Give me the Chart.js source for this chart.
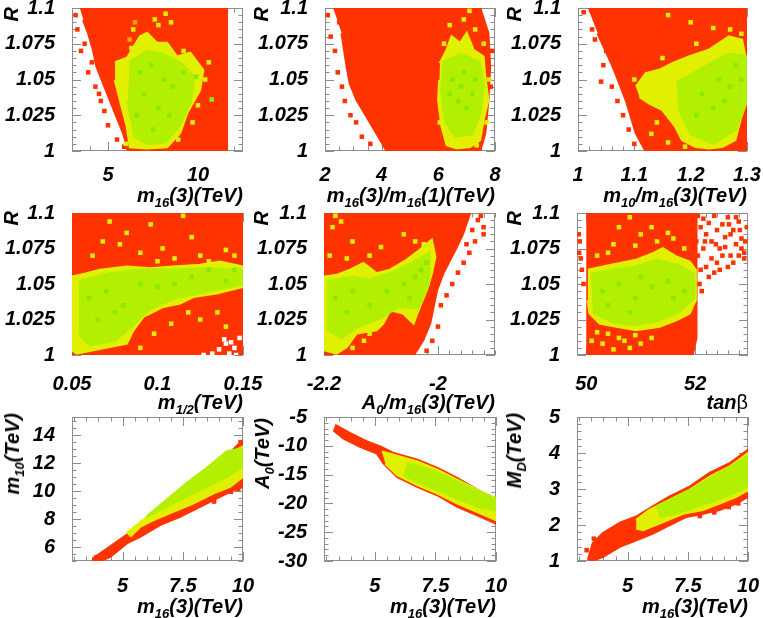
<!DOCTYPE html>
<html><head><meta charset="utf-8">
<script src="https://cdn.jsdelivr.net/npm/chart.js@4.4.1/dist/chart.umd.min.js"></script>
<style>
html,body{margin:0;padding:0;background:#fff}
body{width:763px;height:618px;overflow:hidden;position:relative}
canvas{position:absolute}
.t{position:absolute;font:italic bold 20px "Liberation Sans",Arial,sans-serif;line-height:20px;white-space:nowrap;color:#000}
.t sub{font-size:13px;vertical-align:-5px;line-height:0}
.r{transform-origin:0 0;transform:rotate(-90deg) translate(-100%,-50%)}
.beta{font-style:normal;font-weight:normal}
</style></head><body>
<script>
// ---------- tick labels ----------
const rTicks = [1, 1.025, 1.05, 1.075, 1.1];
const p1XTicks = [5, 10];
const p2XTicks = [2, 4, 6, 8];
const p3XTicks = [1, 1.1, 1.2, 1.3];
const p4XTicks = [0.05, 0.1, 0.15];
const p5XTicks = [-2.2, -2];
const p6XTicks = [50, 52];
const m16XTicks = [5, 7.5, 10];
const p7YTicks = [6, 8, 10, 12, 14];
const p8YTicks = [-30, -25, -20, -15, -10, -5];
const p9YTicks = [1, 2, 3, 4, 5];

// ---------- panel 1 : R vs m16(3) ----------
const p1Red = [[3.44,1.1],[11.6,1.1],[11.6,1.0],[6.13,1.0],[5.85,1.0124],[5.48,1.024],[5.11,1.0357],[4.74,1.0473],[4.37,1.059],[4.18,1.0706],[3.91,1.0823],[3.63,1.0916]];
const p1RedDots = [[3.3,1.085],[3.5,1.07],[3.9,1.055],[4.1,1.062],[4.3,1.045],[4.6,1.035],[4.8,1.028],[5.0,1.018],[5.5,1.008],[5.9,1.003],[3.2,1.095],[3.7,1.075],[4.5,1.04]];
const p1Yellow = [[5.39,1.062],[6.06,1.065],[6.78,1.080],[7.17,1.0825],[7.72,1.0755],[8.28,1.0755],[8.83,1.066],[9.56,1.0685],[10.28,1.0566],[10.11,1.0427],[9.39,1.0266],[9.0,1.0126],[8.28,1.0028],[7.17,1.002],[6.22,1.0028],[6.06,1.0168],[5.67,1.0357],[5.39,1.0497]];
const p1Green = [[6.2,1.062],[7.2,1.07],[8.0,1.068],[9.0,1.062],[9.8,1.052],[9.6,1.035],[9.0,1.018],[8.2,1.006],[7.2,1.005],[6.5,1.01],[6.1,1.035]];
const p1GreenDots = [[6.8,1.055],[7.4,1.06],[8.1,1.05],[7.0,1.04],[7.8,1.03],[8.6,1.045],[9.2,1.055],[6.6,1.025],[7.5,1.015],[8.4,1.025],[9.9,1.052],[10.76,1.036]];
const p1YellowDots = [[7.6,1.092],[8.2,1.096],[8.5,1.09],[6.4,1.085],[9.2,1.07],[10.6,1.062],[10.4,1.05],[10.0,1.032],[9.7,1.02],[6.0,1.005],[7.8,1.088],[6.3,1.072],[8.9,1.008]];
const p1OrangeDots = [[6.2,1.078],[6.5,1.09],[5.8,1.055],[5.9,1.04]];

// ---------- panel 2 : R vs m16(3)/m16(1) ----------
const p2Red = [[2.29,1.1],[7.47,1.1],[7.76,1.0823],[7.82,1.059],[7.76,1.0357],[7.65,1.0124],[7.47,1.0],[4.18,1.0],[3.82,1.0124],[3.47,1.024],[3.12,1.0357],[2.88,1.0473],[2.77,1.059],[2.59,1.0823]];
const p2RedDots = [[2.1,1.095],[2.2,1.08],[2.35,1.07],[2.45,1.055],[2.6,1.045],[2.7,1.035],[2.9,1.025],[3.1,1.02],[3.3,1.01],[3.6,1.005],[2.5,1.09],[7.9,1.07],[7.85,1.045]];
const p2Yellow = [[6.06,1.0613],[6.30,1.0706],[6.47,1.08],[6.77,1.0753],[7.0,1.0823],[7.24,1.0706],[7.59,1.066],[7.65,1.052],[7.76,1.0357],[7.59,1.0217],[7.47,1.0077],[7.12,1.003],[6.65,1.0019],[6.30,1.0042],[6.12,1.017],[6.0,1.0357],[6.04,1.0497]];
const p2Green = [[6.15,1.062],[6.8,1.068],[7.45,1.062],[7.6,1.045],[7.5,1.028],[7.2,1.012],[6.6,1.01],[6.25,1.02],[6.08,1.045]];
const p2GreenDots = [[6.5,1.05],[6.9,1.055],[7.2,1.04],[6.7,1.035],[7.0,1.03],[6.4,1.04],[7.3,1.05],[6.8,1.045]];
const p2YellowDots = [[6.4,1.088],[6.9,1.092],[7.3,1.085],[7.6,1.075],[7.8,1.05],[7.7,1.02],[6.2,1.075],[7.1,1.098],[6.05,1.02],[7.35,1.004]];

// ---------- panel 3 : R vs m10/m16(3) ----------
const p3Red = [[1.0176,1.1],[1.3,1.1],[1.3,1.0],[1.12,1.0],[1.103,1.0124],[1.085,1.0357],[1.062,1.059],[1.035,1.0823]];
const p3RedDots = [[1.01,1.097],[1.025,1.085],[1.041,1.0485],[1.05,1.07],[1.06,1.045],[1.07,1.035],[1.08,1.025],[1.09,1.015],[1.1,1.005],[1.045,1.06],[1.03,1.078]];
const p3Yellow = [[1.103,1.045],[1.1205,1.0543],[1.144,1.0566],[1.1676,1.0613],[1.197,1.066],[1.232,1.0706],[1.268,1.08],[1.291,1.0776],[1.3,1.059],[1.3,1.0357],[1.288,1.0217],[1.279,1.0077],[1.256,1.003],[1.232,1.0019],[1.209,1.003],[1.185,1.0077],[1.173,1.017],[1.15,1.0287],[1.126,1.0334],[1.109,1.038]];
const p3Green = [[1.175,1.048],[1.2206,1.058],[1.268,1.068],[1.3,1.066],[1.3,1.0357],[1.28,1.015],[1.24,1.005],[1.2,1.012],[1.178,1.03]];
const p3GreenDots = [[1.22,1.04],[1.25,1.05],[1.27,1.045],[1.24,1.03],[1.28,1.06],[1.21,1.025],[1.26,1.035],[1.29,1.05]];
const p3YellowDots = [[1.16,1.095],[1.2,1.09],[1.24,1.086],[1.14,1.02],[1.13,1.012],[1.16,1.006],[1.1,1.05],[1.11,1.045],[1.27,1.085],[1.29,1.082],[1.21,1.075],[1.15,1.065],[1.19,1.003]];

// ---------- panel 4 : R vs m1/2 ----------
const p4Red = [[0.05,1.1],[0.15,1.1],[0.15,1.0],[0.05,1.0]];
const p4WhiteDots = [[0.14,1.008],[0.145,1.005],[0.148,1.012],[0.136,1.004],[0.142,1.001],[0.132,1.001],[0.127,1.0],[0.146,1.0],[0.139,1.011],[0.143,1.009]];
const p4Yellow = [[0.05,1.0551],[0.0586,1.0575],[0.0664,1.0599],[0.082,1.0622],[0.0956,1.061],[0.1092,1.0622],[0.1249,1.0634],[0.1365,1.0657],[0.15,1.0622],[0.15,1.0481],[0.1346,1.0434],[0.1209,1.041],[0.1132,1.0364],[0.1034,1.034],[0.0917,1.027],[0.0859,1.0176],[0.082,1.0082],[0.0722,1.0058],[0.0625,1.0035],[0.0527,1.0012],[0.05,1.0035]];
const p4Green = [[0.054,1.052],[0.07,1.057],[0.09,1.06],[0.11,1.06],[0.13,1.061],[0.15,1.06],[0.15,1.05],[0.13,1.045],[0.11,1.04],[0.095,1.032],[0.085,1.02],[0.075,1.01],[0.06,1.007],[0.054,1.015]];
const p4GreenDots = [[0.06,1.04],[0.07,1.045],[0.08,1.035],[0.09,1.05],[0.1,1.048],[0.12,1.055],[0.14,1.052],[0.065,1.025],[0.075,1.03],[0.11,1.05],[0.13,1.06],[0.145,1.06]];
const p4YellowDots = [[0.072,1.094],[0.082,1.086],[0.078,1.078],[0.09,1.072],[0.096,1.092],[0.103,1.075],[0.11,1.068],[0.12,1.083],[0.125,1.07],[0.13,1.066],[0.14,1.074],[0.145,1.07],[0.062,1.07],[0.068,1.08],[0.1,1.066],[0.118,1.03],[0.125,1.025],[0.135,1.03],[0.14,1.02],[0.108,1.022],[0.098,1.015],[0.09,1.005],[0.115,1.098]];

// ---------- panel 5 : R vs A0/m16(3) ----------
const p5Red = [[-2.2,1.1],[-1.944,1.1],[-1.956,1.0857],[-1.967,1.0763],[-1.979,1.0669],[-1.991,1.0575],[-2.002,1.0458],[-2.008,1.034],[-2.014,1.0223],[-2.026,1.0106],[-2.037,1.0035],[-2.043,1.0],[-2.2,1.0]];
const p5RedDots = [[-1.93,1.095],[-1.92,1.09],[-1.935,1.08],[-1.945,1.072],[-1.955,1.065],[-1.965,1.058],[-1.975,1.05],[-1.985,1.042],[-1.995,1.035],[-1.92,1.085],[-1.94,1.088],[-2.0,1.02],[-2.01,1.01],[-2.02,1.003],[-1.95,1.078],[-1.925,1.098]];
const p5Yellow = [[-2.2,1.0551],[-2.178,1.0563],[-2.154,1.0599],[-2.131,1.0646],[-2.108,1.0575],[-2.084,1.0599],[-2.055,1.0669],[-2.032,1.0739],[-2.011,1.081],[-2.005,1.0692],[-2.011,1.0575],[-2.02,1.0458],[-2.032,1.034],[-2.043,1.0223],[-2.061,1.0294],[-2.084,1.0317],[-2.096,1.0223],[-2.108,1.0176],[-2.143,1.0153],[-2.16,1.0058],[-2.178,1.0012],[-2.2,1.0035]];
const p5Green = [[-2.195,1.052],[-2.15,1.055],[-2.12,1.053],[-2.08,1.058],[-2.04,1.066],[-2.015,1.072],[-2.016,1.05],[-2.035,1.033],[-2.07,1.034],[-2.1,1.026],[-2.14,1.02],[-2.17,1.012],[-2.195,1.018]];
const p5GreenDots = [[-2.18,1.04],[-2.15,1.045],[-2.12,1.035],[-2.09,1.045],[-2.06,1.05],[-2.04,1.055],[-2.03,1.06],[-2.05,1.04],[-2.16,1.03],[-2.02,1.065]];
const p5YellowDots = [[-2.18,1.098],[-2.185,1.09],[-2.17,1.094],[-2.15,1.08],[-2.12,1.07],[-2.1,1.076],[-2.06,1.085],[-2.04,1.08],[-2.025,1.078],[-2.16,1.068],[-2.19,1.07],[-2.13,1.01],[-2.15,1.005],[-2.12,1.015]];

// ---------- panel 6 : R vs tan beta ----------
const p6Red = [[50.0,1.1],[52.02,1.1],[52.02,1.012],[51.95,1.0],[50.0,1.0]];
const p6RedDots = [[49.86,1.085],[49.88,1.08],[49.87,1.072],[49.9,1.068],[49.92,1.06],[49.95,1.05],
  [52.05,1.098],[52.1,1.09],[52.15,1.096],[52.2,1.085],[52.25,1.093],[52.3,1.08],[52.35,1.098],[52.4,1.088],[52.45,1.075],[52.5,1.092],[52.55,1.083],[52.6,1.097],[52.65,1.07],[52.7,1.088],[52.75,1.078],[52.8,1.094],[52.85,1.082],[52.9,1.072],[52.95,1.09],[52.05,1.07],[52.1,1.06],[52.08,1.05],[52.15,1.075],[52.2,1.062],[52.3,1.068],[52.35,1.058],[52.4,1.065],[52.5,1.07],[52.6,1.062],[52.7,1.065],[52.8,1.07],[52.9,1.068],[52.12,1.045],[52.25,1.055],[52.45,1.06],[52.55,1.076],[52.65,1.085],[52.75,1.097],[52.85,1.075],[52.92,1.08],[52.02,1.08],[52.18,1.08],[52.38,1.078],[52.62,1.092],[52.82,1.088]];
const p6Yellow = [[50.03,1.0599],[50.307,1.0622],[50.613,1.0646],[50.918,1.0669],[51.224,1.0716],[51.408,1.0751],[51.652,1.0692],[51.898,1.0657],[52.008,1.0599],[52.008,1.0387],[51.898,1.0294],[51.652,1.0246],[51.347,1.02],[50.918,1.0176],[50.551,1.02],[50.246,1.0223],[50.062,1.0294],[50.03,1.0387]];
const p6Green = [[50.08,1.057],[50.5,1.06],[50.9,1.062],[51.3,1.067],[51.7,1.063],[51.98,1.057],[51.98,1.04],[51.7,1.03],[51.3,1.024],[50.9,1.021],[50.5,1.023],[50.12,1.03]];
const p6GreenDots = [[50.3,1.045],[50.6,1.05],[50.9,1.04],[51.2,1.048],[51.5,1.052],[51.8,1.045],[50.4,1.035],[51.0,1.055],[51.6,1.04],[50.8,1.03]];
const p6YellowDots = [[50.1,1.01],[50.3,1.008],[50.4,1.015],[50.6,1.012],[50.8,1.005],[50.7,1.01],[51.0,1.008],[51.2,1.012],[50.5,1.004],[50.2,1.016],[50.9,1.014],
  [50.6,1.09],[50.8,1.097],[51.0,1.085],[51.2,1.09],[51.5,1.086],[50.5,1.078],[50.9,1.077],[51.3,1.08],[51.6,1.082],[51.8,1.075],[50.2,1.07],[50.4,1.072]];

// ---------- panel 7 : m10 vs m16(3) ----------
const p7Red = [[3.78,5.0],[3.78,5.19],[4.48,6.02],[5.17,6.86],[5.86,7.7],[6.55,8.65],[7.38,9.6],[8.21,10.79],[9.04,11.99],[9.8,13.3],[10.0,13.42],[10.0,10.31],[9.59,10.08],[9.04,9.6],[8.21,8.88],[7.38,8.17],[6.55,7.58],[5.72,6.74],[5.17,6.27],[4.48,5.31],[4.06,5.0]];
const p7Yellow = [[5.17,6.98],[5.86,7.93],[6.83,9.13],[7.66,10.31],[8.49,11.39],[9.32,12.58],[10.0,13.18],[10.0,11.03],[9.46,10.31],[8.76,9.84],[7.93,9.13],[7.1,8.53],[6.27,7.93],[5.72,7.45],[5.31,6.74]];
const p7Green = [[6.0,8.17],[6.83,9.36],[7.66,10.56],[8.49,11.63],[9.32,12.82],[10.0,13.06],[10.0,11.75],[9.32,11.03],[8.49,10.31],[7.66,9.6],[6.83,8.88],[6.14,8.29]];
const p7RedDots = [[3.9,5.25],[4.3,5.6],[9.5,9.95],[9.8,10.15],[8.8,9.25],[9.9,13.5]];

// ---------- panel 8 : A0 vs m16(3) ----------
const p8Red = [[3.36,-6.39],[3.98,-7.83],[4.67,-9.28],[5.22,-10.15],[5.78,-11.3],[6.75,-12.47],[7.58,-13.9],[8.41,-15.64],[9.24,-17.67],[10.0,-19.41],[10.0,-23.45],[9.37,-22.3],[8.41,-20.57],[7.58,-18.54],[6.75,-17.1],[5.92,-15.36],[5.36,-13.04],[5.09,-11.3],[4.39,-10.15],[3.7,-8.7],[3.29,-7.26]];
const p8Yellow = [[5.29,-11.02],[5.78,-11.6],[6.75,-12.76],[7.58,-14.2],[8.41,-15.94],[9.37,-17.97],[10.0,-19.7],[10.0,-22.88],[9.37,-21.72],[8.41,-19.98],[7.58,-18.25],[6.75,-16.8],[5.92,-15.07],[5.43,-13.04]];
const p8Green = [[6.33,-13.04],[7.3,-14.2],[8.13,-15.64],[8.96,-17.38],[10.0,-19.11],[10.0,-21.15],[9.24,-20.57],[8.41,-19.11],[7.58,-17.67],[6.75,-16.23],[6.19,-15.07]];

// ---------- panel 9 : MD vs m16(3) ----------
const p9Red = [[3.36,1.03],[3.56,1.49],[3.98,1.77],[4.67,2.05],[5.36,2.23],[6.05,2.51],[6.75,2.79],[7.58,3.06],[8.41,3.44],[9.24,3.71],[10.0,4.08],[10.0,2.79],[9.51,2.6],[8.82,2.42],[8.13,2.32],[7.44,2.23],[6.75,2.0],[6.05,1.77],[5.36,1.58],[4.67,1.4],[3.98,1.12],[3.49,1.0]];
const p9Yellow = [[5.36,2.14],[5.92,2.42],[6.75,2.69],[7.58,2.97],[8.41,3.34],[9.24,3.62],[10.0,3.99],[10.0,2.97],[9.51,2.79],[8.82,2.6],[8.13,2.42],[7.3,2.32],[6.47,2.09],[5.64,1.86],[5.36,1.91]];
const p9Green = [[6.19,2.51],[7.02,2.79],[7.85,3.06],[8.68,3.39],[9.51,3.71],[10.0,3.9],[10.0,3.06],[9.37,2.88],[8.68,2.69],[7.85,2.51],[7.02,2.32],[6.33,2.23]];
const p9RedDots = [[3.3,1.3],[3.6,1.62],[9.6,2.6],[9.9,2.85],[8.0,2.25],[8.6,2.35],[9.2,2.5]];

// ---------- colours ----------
const RED = '#ff3300', YEL = '#e0f000', YG = '#b2ef00', GRN = '#8ce800', ORG = '#ffa000', WHITE = '#ffffff';

const xy = a => a.map(p => ({x: p[0], y: p[1]}));
const poly = (a, c, order) => ({data: xy(a), showLine: true, fill: 'shape', tension: 0, backgroundColor: c, borderColor: c, borderWidth: 2.5, pointRadius: 0, order, clip: 0});
const dots = (a, c, order, r) => ({data: xy(a), showLine: false, pointStyle: 'rect', pointRadius: r || 3.2, backgroundColor: c, borderWidth: 0, order, clip: 0});

const framePlugin = {
  id: 'frame',
  beforeDatasetsDraw(chart) {
    const o = chart.options.plugins.frame;
    const {ctx, chartArea: a, scales: {x, y}} = chart;
    ctx.save();
    ctx.strokeStyle = '#8c8c8c';
    ctx.lineWidth = 1;
    ctx.strokeRect(a.left + 0.5, a.top + 0.5, a.right - a.left - 1, a.bottom - a.top - 1);
    ctx.beginPath();
    const steps = (min, max, st) => { const r = []; for (let v = Math.ceil(min / st - 1e-6) * st; v <= max + 1e-9; v += st) r.push(v); return r; };
    for (const v of steps(x.min, x.max, o.xMinor)) {
      const p = Math.round(x.getPixelForValue(v)) + 0.5;
      const L = o.xMajor.some(m => Math.abs(m - v) < o.xMinor / 10) ? 9 : 4.5;
      ctx.moveTo(p, a.bottom); ctx.lineTo(p, a.bottom - L);
      ctx.moveTo(p, a.top); ctx.lineTo(p, a.top + L);
    }
    for (const v of steps(y.min, y.max, o.yMinor)) {
      const p = Math.round(y.getPixelForValue(v)) + 0.5;
      const L = o.yMajor.some(m => Math.abs(m - v) < o.yMinor / 10) ? 9 : 4.5;
      ctx.moveTo(a.left, p); ctx.lineTo(a.left + L, p);
      ctx.moveTo(a.right, p); ctx.lineTo(a.right - L, p);
    }
    ctx.stroke();
    ctx.restore();
  }
};

const TICKFONT = {family: '"Liberation Sans", Arial, sans-serif', size: 20, style: 'italic', weight: 'bold'};
const PADT = 20, PADR = 26, AXW = 72, AXH = 36;

function makePanel(p) {
  const c = document.createElement('canvas');
  const W = AXW + p.w + PADR, H = PADT + p.h + AXH;
  c.width = W; c.height = H;
  c.style.left = (p.left - AXW) + 'px';
  c.style.top = (p.top - PADT) + 'px';
  c.style.width = W + 'px'; c.style.height = H + 'px';
  document.body.appendChild(c);
  const noPad = s => { s.paddingLeft = 0; s.paddingRight = 0; s.paddingTop = 0; s.paddingBottom = 0; };
  new Chart(c, {
    type: 'scatter',
    data: {datasets: p.datasets},
    options: {
      responsive: false, animation: false, events: [], devicePixelRatio: 1,
      layout: {padding: {top: PADT, right: PADR, left: 0, bottom: 0}},
      plugins: {legend: {display: false}, tooltip: {enabled: false},
        frame: {xMinor: p.xMinor, yMinor: p.yMinor, xMajor: p.xTicks, yMajor: p.yTicks}},
      scales: {
        x: {type: 'linear', min: p.xr[0], max: p.xr[1],
          afterBuildTicks: s => { s.ticks = p.xTicks.map(v => ({value: v})); },
          afterFit: s => { s.height = AXH; noPad(s); },
          grid: {display: false}, border: {display: false},
          ticks: {autoSkip: false, maxRotation: 0, padding: p.xPad, color: '#000', font: TICKFONT, callback: v => String(v)}},
        y: {type: 'linear', min: p.yr[0], max: p.yr[1],
          afterBuildTicks: s => { s.ticks = p.yTicks.map(v => ({value: v})); },
          afterFit: s => { s.width = AXW; noPad(s); },
          grid: {display: false}, border: {display: false},
          ticks: {autoSkip: false, padding: 9, color: '#000', font: TICKFONT, callback: v => String(v)}}
      }
    },
    plugins: [framePlugin]
  });
}

const panels = [
  {left: 72, top: 8, w: 171, h: 143, xr: [3, 12.5], yr: [1, 1.1], xTicks: p1XTicks, yTicks: rTicks, xMinor: 1, yMinor: 0.005, xPad: 4,
   datasets: [poly(p1Red, RED, 20), dots(p1RedDots, RED, 19), dots(p1OrangeDots, ORG, 18), poly(p1Yellow, YEL, 17), poly(p1Green, YG, 16), dots(p1YellowDots, YEL, 15), dots(p1GreenDots, GRN, 14)]},
  {left: 325, top: 8, w: 170, h: 143, xr: [2, 8], yr: [1, 1.1], xTicks: p2XTicks, yTicks: rTicks, xMinor: 0.5, yMinor: 0.005, xPad: 4,
   datasets: [poly(p2Red, RED, 20), dots(p2RedDots, RED, 19), poly(p2Yellow, YEL, 17), poly(p2Green, YG, 16), dots(p2YellowDots, YEL, 15), dots(p2GreenDots, GRN, 14)]},
  {left: 578, top: 8, w: 169, h: 143, xr: [1, 1.3], yr: [1, 1.1], xTicks: p3XTicks, yTicks: rTicks, xMinor: 0.02, yMinor: 0.005, xPad: 4,
   datasets: [poly(p3Red, RED, 20), dots(p3RedDots, RED, 19), poly(p3Yellow, YEL, 17), poly(p3Green, YG, 16), dots(p3YellowDots, YEL, 15), dots(p3GreenDots, GRN, 14)]},
  {left: 72, top: 213, w: 171, h: 142, xr: [0.05, 0.15], yr: [1, 1.1], xTicks: p4XTicks, yTicks: rTicks, xMinor: 0.01, yMinor: 0.005, xPad: 9,
   datasets: [poly(p4Red, RED, 20), dots(p4WhiteDots, WHITE, 19), poly(p4Yellow, YEL, 17), poly(p4Green, YG, 16), dots(p4YellowDots, YEL, 15), dots(p4GreenDots, GRN, 14)]},
  {left: 324, top: 213, w: 171, h: 142, xr: [-2.2, -1.9], yr: [1, 1.1], xTicks: p5XTicks, yTicks: rTicks, xMinor: 0.02, yMinor: 0.005, xPad: 9,
   datasets: [poly(p5Red, RED, 20), dots(p5RedDots, RED, 19), poly(p5Yellow, YEL, 17), poly(p5Green, YG, 16), dots(p5YellowDots, YEL, 15), dots(p5GreenDots, GRN, 14)]},
  {left: 577, top: 213, w: 171, h: 142, xr: [49.83, 52.97], yr: [1, 1.1], xTicks: p6XTicks, yTicks: rTicks, xMinor: 0.2, yMinor: 0.005, xPad: 9,
   datasets: [poly(p6Red, RED, 20), dots(p6RedDots, RED, 19), poly(p6Yellow, YEL, 17), poly(p6Green, YG, 16), dots(p6YellowDots, YEL, 15), dots(p6GreenDots, GRN, 14)]},
  {left: 72, top: 417, w: 171, h: 144, xr: [2.9, 10], yr: [5, 15.3], xTicks: m16XTicks, yTicks: p7YTicks, xMinor: 0.5, yMinor: 0.5, xPad: 5,
   datasets: [poly(p7Red, RED, 20), dots(p7RedDots, RED, 19), poly(p7Yellow, YEL, 17), poly(p7Green, YG, 16)]},
  {left: 324, top: 417, w: 172, h: 144, xr: [2.9, 10], yr: [-30, -5], xTicks: m16XTicks, yTicks: p8YTicks, xMinor: 0.5, yMinor: 1, xPad: 5,
   datasets: [poly(p8Red, RED, 20), poly(p8Yellow, YEL, 17), poly(p8Green, YG, 16)]},
  {left: 577, top: 417, w: 171, h: 144, xr: [2.9, 10], yr: [1, 5], xTicks: m16XTicks, yTicks: p9YTicks, xMinor: 0.5, yMinor: 0.2, xPad: 5,
   datasets: [poly(p9Red, RED, 20), dots(p9RedDots, RED, 19), poly(p9Yellow, YEL, 17), poly(p9Green, YG, 16)]}
];
panels.forEach(makePanel);

// ---------- axis titles (real text) ----------
const titles = [
  {html: 'm<sub>16</sub>(3)(TeV)', right: 243, top: 185},
  {html: 'm<sub>16</sub>(3)/m<sub>16</sub>(1)(TeV)', right: 495, top: 185},
  {html: 'm<sub>10</sub>/m<sub>16</sub>(3)(TeV)', right: 747, top: 185},
  {html: 'm<sub>1/2</sub>(TeV)', right: 243, top: 392},
  {html: 'A<sub>0</sub>/m<sub>16</sub>(3)(TeV)', right: 495, top: 392},
  {html: 'tan<span class="beta">β</span>', right: 748, top: 392},
  {html: 'm<sub>16</sub>(3)(TeV)', right: 243, top: 596},
  {html: 'm<sub>16</sub>(3)(TeV)', right: 496, top: 596},
  {html: 'm<sub>16</sub>(3)(TeV)', right: 748, top: 596}
];
titles.forEach(t => {
  const d = document.createElement('div');
  d.className = 't';
  d.innerHTML = t.html;
  d.style.right = (763 - t.right) + 'px';
  d.style.top = t.top + 'px';
  document.body.appendChild(d);
});
const yTitles = [
  {html: 'R', x: 11, y: 7}, {html: 'R', x: 261, y: 7}, {html: 'R', x: 514, y: 7},
  {html: 'R', x: 11, y: 211}, {html: 'R', x: 261, y: 211}, {html: 'R', x: 514, y: 211},
  {html: 'm<sub>10</sub>(TeV)', x: 12, y: 413},
  {html: 'A<sub>0</sub>(TeV)', x: 262, y: 418},
  {html: 'M<sub>D</sub>(TeV)', x: 514, y: 413}
];
yTitles.forEach(t => {
  const d = document.createElement('div');
  d.className = 't r';
  d.innerHTML = t.html;
  d.style.left = t.x + 'px';
  d.style.top = t.y + 'px';
  document.body.appendChild(d);
});
</script>
</body></html>
